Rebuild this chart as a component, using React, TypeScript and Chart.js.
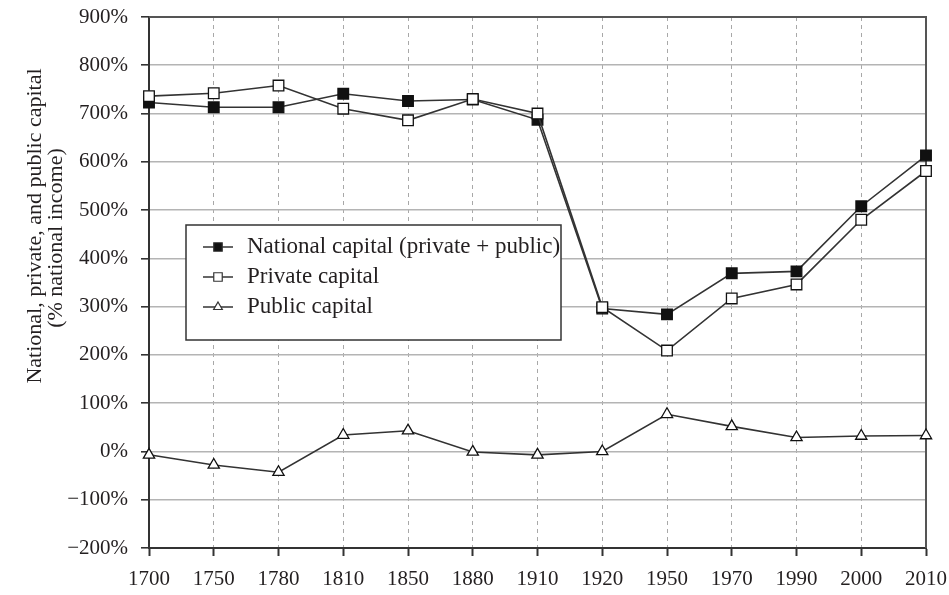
import React, { useEffect, useRef } from 'react';
import { Chart, registerables } from 'chart.js';

Chart.register(...registerables);

const years = ['1700', '1750', '1780', '1810', '1850', '1880', '1910', '1920', '1950', '1970', '1990', '2000', '2010'];
const nationalCapital = [723, 713, 713, 741, 726, 729, 687, 296, 284, 369, 373, 508, 613];
const privateCapital = [736, 742, 758, 710, 686, 730, 700, 299, 209, 317, 346, 480, 581];
const publicCapital = [-7, -28, -43, 34, 43, -1, -7, 0, 77, 52, 29, 32, 33];
const seriesLabels = ['National capital (private + public)', 'Private capital', 'Public capital'];
const yMin = -200;
const yMax = 900;
const yStep = 100;
const yTitle = ['National, private, and public capital', '(% national income)'];

const FONT = '"Liberation Serif", "DejaVu Serif", serif';
const TEXT = '#231f20';
const LINE = '#333333';

function drawMarker(ctx: CanvasRenderingContext2D, style: string, fill: string, x: number, y: number, r: number) {
  ctx.beginPath();
  if (style === 'triangle') {
    ctx.moveTo(x, y - r);
    ctx.lineTo(x + r * 0.866, y + r * 0.5);
    ctx.lineTo(x - r * 0.866, y + r * 0.5);
    ctx.closePath();
  } else {
    const s = r * Math.SQRT1_2;
    ctx.rect(x - s, y - s, 2 * s, 2 * s);
  }
  ctx.fillStyle = fill;
  ctx.fill();
  ctx.stroke();
}

const framePlugin = {
  id: 'frame',
  beforeDatasetsDraw(chart: any) {
    const { ctx, chartArea } = chart;
    ctx.save();
    ctx.strokeStyle = '#555';
    ctx.lineWidth = 2;
    ctx.beginPath();
    ctx.moveTo(chartArea.left, chartArea.top);
    ctx.lineTo(chartArea.right, chartArea.top);
    ctx.lineTo(chartArea.right, chartArea.bottom);
    ctx.stroke();
    ctx.restore();
  },
};

const yTitlePlugin = {
  id: 'yTitle',
  afterDraw(chart: any) {
    const { ctx } = chart;
    ctx.save();
    ctx.fillStyle = TEXT;
    ctx.font = `22px ${FONT}`;
    ctx.textAlign = 'center';
    ctx.textBaseline = 'middle';
    const xs = [35, 56];
    const ys = [226, 238];
    yTitle.forEach((t, i) => {
      ctx.save();
      ctx.translate(xs[i], ys[i]);
      ctx.rotate(-Math.PI / 2);
      ctx.fillText(t, 0, 0);
      ctx.restore();
    });
    ctx.restore();
  },
};

const legendPlugin = {
  id: 'boxLegend',
  afterDraw(chart: any) {
    const { ctx, chartArea } = chart;
    const x0 = chartArea.left + 37;
    const y0 = chartArea.top + 208;
    const w = 375;
    const h = 115;
    ctx.save();
    ctx.fillStyle = '#fff';
    ctx.fillRect(x0, y0, w, h);
    ctx.strokeStyle = LINE;
    ctx.lineWidth = 1.5;
    ctx.strokeRect(x0, y0, w, h);
    chart.data.datasets.forEach((ds: any, i: number) => {
      const cy = y0 + 22 + i * 30;
      ctx.strokeStyle = LINE;
      ctx.lineWidth = 1.5;
      ctx.beginPath();
      ctx.moveTo(x0 + 17, cy);
      ctx.lineTo(x0 + 47, cy);
      ctx.stroke();
      ctx.lineWidth = 1.2;
      drawMarker(ctx, ds.pointStyle, ds.pointBackgroundColor, x0 + 32, cy, ds.pointStyle === 'triangle' ? 5 : 6);
      ctx.fillStyle = TEXT;
      ctx.font = `23px ${FONT}`;
      ctx.textAlign = 'left';
      ctx.textBaseline = 'middle';
      ctx.fillText(ds.label, x0 + 61, cy);
    });
    ctx.restore();
  },
};

export default function App() {
  const ref = useRef<HTMLCanvasElement | null>(null);

  useEffect(() => {
    const canvas = ref.current;
    if (!canvas) return;
    const common = {
      borderColor: LINE,
      borderWidth: 1.6,
      pointBorderColor: '#111',
      pointBorderWidth: 1.3,
      tension: 0,
      fill: false,
    };
    const chart = new Chart(canvas, {
      type: 'line',
      data: {
        labels: years,
        datasets: [
          {
            ...common,
            label: seriesLabels[0],
            data: nationalCapital,
            pointStyle: 'rect',
            pointRadius: 7.5,
            pointBackgroundColor: '#111',
            order: 2,
          },
          {
            ...common,
            label: seriesLabels[1],
            data: privateCapital,
            pointStyle: 'rect',
            pointRadius: 7.5,
            pointBackgroundColor: '#fff',
            order: 1,
          },
          {
            ...common,
            label: seriesLabels[2],
            data: publicCapital,
            pointStyle: 'triangle',
            pointRadius: 6.5,
            pointBackgroundColor: '#fff',
            order: 0,
          },
        ],
      },
      options: {
        responsive: false,
        animation: false,
        devicePixelRatio: 1,
        layout: { padding: { left: 0, top: 17, right: 23, bottom: 0 } },
        plugins: {
          legend: { display: false },
          tooltip: { enabled: false },
        },
        scales: {
          x: {
            type: 'category',
            offset: false,
            grid: {
              color: '#a8a8a8',
              lineWidth: 1,
              tickColor: LINE,
              tickLength: 8,
              tickWidth: 2,
            },
            border: { color: LINE, width: 2, dash: [4, 4] },
            ticks: {
              color: TEXT,
              font: { family: FONT, size: 21 },
              padding: 11,
              autoSkip: false,
              maxRotation: 0,
            },
            afterFit: (scale: any) => {
              scale.height = 47;
              scale.paddingLeft = 0;
              scale.paddingRight = 0;
            },
          },
          y: {
            min: yMin,
            max: yMax,
            grid: {
              color: '#b4b4b4',
              lineWidth: 1.6,
              tickColor: LINE,
              tickLength: 8,
              tickWidth: 1.6,
            },
            border: { color: LINE, width: 2 },
            ticks: {
              stepSize: yStep,
              color: TEXT,
              font: { family: FONT, size: 21 },
              padding: 13,
              callback: (v: any) => `${Number(v) < 0 ? '\u2212' + Math.abs(Number(v)) : v}%`,
            },
            afterFit: (scale: any) => {
              scale.width = 149;
              scale.paddingTop = 0;
              scale.paddingBottom = 0;
            },
          },
        },
      },
      plugins: [framePlugin, yTitlePlugin, legendPlugin],
    });
    return () => chart.destroy();
  }, []);

  return (
    <div style={{ position: 'fixed', left: 0, top: 0, width: 949, height: 595, background: '#fff' }}>
      <canvas ref={ref} width={949} height={595} />
    </div>
  );
}
